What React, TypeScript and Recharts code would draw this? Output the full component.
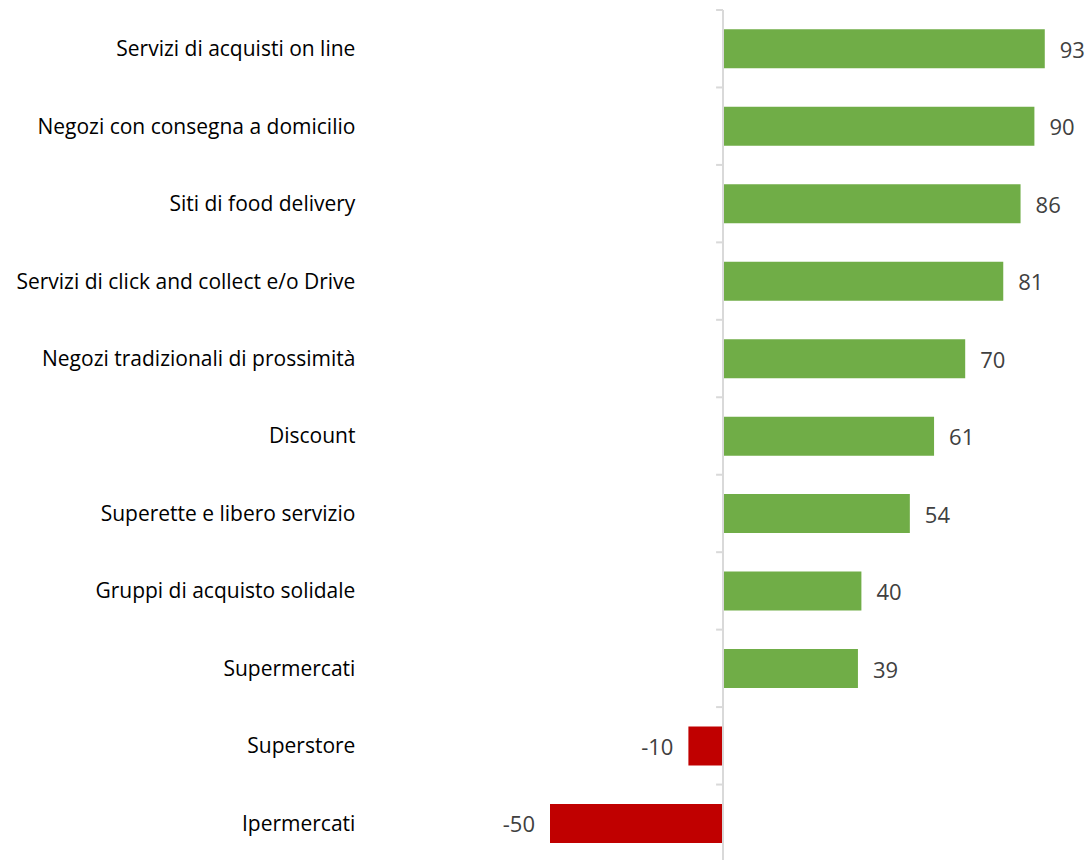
import React from 'react';
import { BarChart, Bar, XAxis, YAxis, Cell, LabelList, ReferenceLine } from 'recharts';

const categories = [
  'Servizi di acquisti on line',
  'Negozi con consegna a domicilio',
  'Siti di food delivery',
  'Servizi di click and collect e/o Drive',
  'Negozi tradizionali di prossimità',
  'Discount',
  'Superette e libero servizio',
  'Gruppi di acquisto solidale',
  'Supermercati',
  'Superstore',
  'Ipermercati',
];
const values = [93, 90, 86, 81, 70, 61, 54, 40, 39, -10, -50];

const data = categories.map((name, i) => ({ name, value: values[i] }));

const POS = '#70AD47';
const NEG = '#C00000';
const AXIS = '#D9D9D9';
const FONT = '"Open Sans", Lato, sans-serif';

const ValueLabel = (props: any) => {
  const { x, y, width, height, value } = props;
  const left = Math.min(x, x + width);
  const right = Math.max(x, x + width);
  const pos = value >= 0;
  return (
    <text
      x={pos ? right + 15 : left - 15}
      y={y + height / 2}
      textAnchor={pos ? 'start' : 'end'}
      dominantBaseline="central"
      fill="#404040"
      fontSize={22}
      fontFamily={FONT}
    >
      {value}
    </text>
  );
};

export default function App() {
  return (
    <div style={{ position: 'absolute', left: 0, top: 0, background: '#fff' }}>
      <BarChart
        width={1088}
        height={863}
        data={data}
        layout="vertical"
        margin={{ top: 10, right: 19, bottom: 1, left: 0 }}
        barCategoryGap="25%"
      >
        <XAxis type="number" domain={[-60, 100]} hide />
        <YAxis
          type="category"
          dataKey="name"
          width={515.4}
          axisLine={false}
          tickLine={false}
          tickSize={0}
          tickMargin={160}
          interval={0}
          tick={{ fill: '#000000', fontSize: 21, fontFamily: FONT }}
        />
        <Bar dataKey="value" isAnimationActive={false}>
          {data.map((d, i) => (
            <Cell key={i} fill={d.value >= 0 ? POS : NEG} />
          ))}
          <LabelList dataKey="value" content={ValueLabel} />
        </Bar>
        <ReferenceLine x={0} stroke={AXIS} strokeWidth={2} />
        {categories.map((c) => (
          <ReferenceLine
            key={'t' + c}
            segment={[{ x: -2, y: c }, { x: 0, y: c }]}
            position="start"
            stroke={AXIS}
            strokeWidth={2}
          />
        ))}
        <ReferenceLine
          segment={[{ x: -2, y: categories[categories.length - 1] }, { x: 0, y: categories[categories.length - 1] }]}
          position="end"
          stroke={AXIS}
          strokeWidth={2}
        />
      </BarChart>
    </div>
  );
}
